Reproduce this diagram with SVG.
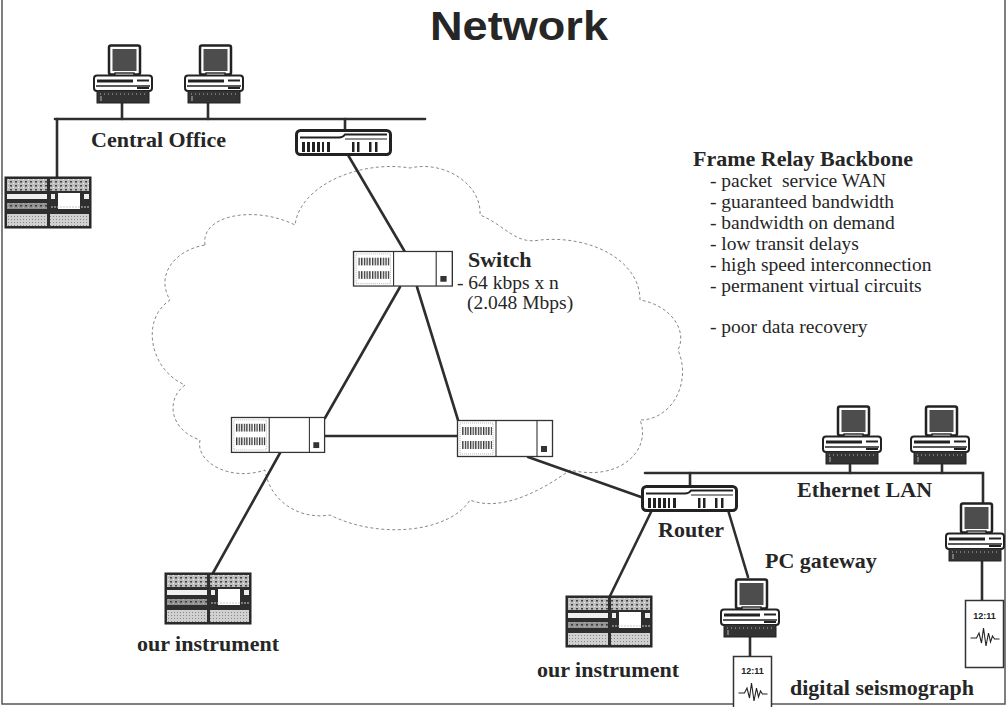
<svg xmlns="http://www.w3.org/2000/svg" xmlns:xlink="http://www.w3.org/1999/xlink" width="1007" height="707" viewBox="0 0 1007 707">
  <style>
    .link { stroke: #2e2e2e; stroke-width: 2.6; fill: none; stroke-linecap: round; }
    .lbl { font-family: "Liberation Serif", "Times New Roman", serif; font-weight: bold; font-size: 22px; fill: #262626; }
    .txt { font-family: "Liberation Serif", "Times New Roman", serif; font-size: 19.5px; fill: #262626; }
    .cloud { fill: none; stroke: #7a7a7a; stroke-width: 0.9; stroke-dasharray: 3 2.5; }
    .frame { fill: none; stroke: #555; stroke-width: 1.5; }
  </style>
  <defs>
    <pattern id="vent" width="2.6" height="8" patternUnits="userSpaceOnUse">
      <rect x="0" y="0" width="1.3" height="8" fill="#333"/>
    </pattern>
    <pattern id="speck" width="5" height="4" patternUnits="userSpaceOnUse">
      <rect width="5" height="4" fill="#bdbdbd"/>
      <rect x="0" y="0" width="2" height="1.5" fill="#444"/>
      <rect x="3" y="2" width="1" height="1" fill="#eee"/>
    </pattern>
    <pattern id="dots" width="3" height="3" patternUnits="userSpaceOnUse">
      <rect width="3" height="3" fill="#d0d0d0"/>
      <rect x="0" y="0" width="1" height="1" fill="#888"/>
    </pattern>

    <!-- desktop computer: monitor on a base unit -->
    <g id="pc-icon">
      <rect x="16" y="1.5" width="31" height="29" rx="2" fill="#fff" stroke="#222" stroke-width="2.5"/>
      <rect x="19.5" y="5" width="24" height="22" fill="#4d4d4d"/>
      <rect x="22" y="29" width="19" height="3" fill="#fff" stroke="#222" stroke-width="1.4"/>
      <rect x="1" y="31.5" width="58" height="15.5" rx="3" fill="#fff" stroke="#222" stroke-width="2"/>
      <rect x="4" y="35.5" width="36" height="3" fill="#222"/>
      <rect x="44" y="35.5" width="12" height="2" fill="#222"/>
      <line x1="3" y1="42" x2="57" y2="42" stroke="#222" stroke-width="1.4"/>
      <rect x="44" y="43" width="12" height="2" fill="#222"/>
      <rect x="4" y="46.5" width="52" height="12.5" fill="#333" stroke="#222" stroke-width="1"/>
      <line x1="7" y1="50" x2="53" y2="50" stroke="#ddd" stroke-width="0.8" stroke-dasharray="1 3"/>
      <line x1="8" y1="52" x2="8" y2="57" stroke="#ddd" stroke-width="0.8"/>
    </g>

    <!-- router: rounded chassis with port bars -->
    <g id="router-icon">
      <rect x="1.5" y="1.5" width="94" height="24" rx="4" fill="#fff" stroke="#222" stroke-width="3"/>
      <path d="M5,8.5 H44 Q48,8.5 50,5.5 H92" fill="none" stroke="#222" stroke-width="2"/>
      <path d="M50,10 H92" fill="none" stroke="#222" stroke-width="1.2"/>
      <g fill="#222">
        <rect x="7" y="13" width="3" height="10"/>
        <rect x="12" y="13" width="3" height="10"/>
        <rect x="17" y="13" width="3" height="10"/>
        <rect x="22" y="13" width="3" height="10"/>
        <rect x="27" y="13" width="2" height="10"/>
        <rect x="32" y="13" width="3" height="10"/>
        <rect x="57" y="13" width="2.5" height="10"/>
        <rect x="62" y="13" width="2.5" height="10"/>
        <rect x="74" y="13" width="2.5" height="10"/>
        <rect x="80" y="13" width="2.5" height="10"/>
      </g>
    </g>

    <!-- frame relay switch: vented panel, blank bay, status panel -->
    <g id="switch-icon">
      <rect x="0.5" y="0.5" width="95" height="36" fill="#fff" stroke="#333" stroke-width="1.3"/>
      <line x1="39" y1="0.5" x2="39" y2="36.5" stroke="#333" stroke-width="1.1"/>
      <line x1="80" y1="0.5" x2="80" y2="36.5" stroke="#333" stroke-width="1.1"/>
      <rect x="3" y="3" width="33" height="31" fill="none" stroke="#888" stroke-width="0.6" stroke-dasharray="1 1"/>
      <rect x="5" y="7" width="30" height="8" fill="url(#vent)"/>
      <rect x="5" y="21" width="30" height="8" fill="url(#vent)"/>
      <rect x="84" y="26" width="6" height="6" fill="#333"/>
    </g>

    <!-- data acquisition instrument front panel -->
    <g id="instrument-icon">
      <rect x="0" y="0" width="86" height="51" fill="#2e2e2e" stroke="#222" stroke-width="1"/>
      <rect x="2" y="2" width="40" height="12" fill="url(#speck)"/>
      <rect x="45" y="2" width="39" height="12" fill="url(#speck)"/>
      <rect x="2" y="17" width="40" height="5" fill="#f0f0f0"/>
      <rect x="46" y="17" width="4" height="5" fill="#eee"/>
      <rect x="53" y="16" width="22" height="16" fill="#fff"/>
      <rect x="79" y="17" width="5" height="5" fill="#eee"/>
      <line x1="46" y1="30" x2="84" y2="30" stroke="#ccc" stroke-width="1.2" stroke-dasharray="2 1"/>
      <rect x="2" y="26" width="40" height="6" fill="url(#speck)" opacity="0.7"/>
      <rect x="2" y="37" width="40" height="12" fill="url(#dots)"/>
      <rect x="45" y="37" width="39" height="12" fill="url(#dots)"/>
    </g>

    <!-- seismograph trace display -->
    <g id="seismo-trace">
      <text x="19" y="15" text-anchor="middle" font-family="Liberation Sans, Arial, sans-serif" font-weight="bold" font-size="9" fill="#222">12:11</text>
      <path d="M5,34 H11 L13.5,29 L16,39 L18,24 L20.5,42 L23,29 L25,38 L27,32 L29,35 H34" fill="none" stroke="#222" stroke-width="1.1"/>
    </g>
  </defs>

  <rect width="1007" height="707" fill="#fff"/>
  <path class="frame" d="M2,0 V704 H1005 V0"/>

  <text x="519" y="40" text-anchor="middle" font-family="Liberation Sans, Arial, sans-serif" font-weight="bold" font-size="40" textLength="178" lengthAdjust="spacingAndGlyphs" fill="#262626">Network</text>

  <!-- frame relay cloud -->
  <path id="cloud" class="cloud" d="M205,245 C200,215 255,205 295,225 C300,185 360,160 410,168 C445,160 482,185 480,215 C505,225 515,245 540,240 C590,235 640,260 640,300 C670,305 688,330 678,350 C692,382 672,420 640,420 C652,450 620,482 570,470 C540,492 500,512 470,500 C450,532 380,540 330,515 C300,520 270,502 265,470 C230,482 195,462 200,440 C170,430 165,400 185,385 C150,370 140,320 170,300 C155,275 175,250 205,245 Z"/>

  <!-- connectors -->
  <g id="connectors">
    <path class="link" d="M55,119 H425"/>
    <path class="link" d="M122,103 V119"/>
    <path class="link" d="M208,103 V119"/>
    <path class="link" d="M57,119 V177"/>
    <path class="link" d="M345,119 V129"/>
    <path class="link" d="M348,155 L405,252"/>
    <path class="link" d="M400,287 L325,418"/>
    <path class="link" d="M417,287 L458,420"/>
    <path class="link" d="M325,436 H457"/>
    <path class="link" d="M280,453 L213,573"/>
    <path class="link" d="M528,457 L641,497"/>
    <path class="link" d="M645,473 H983 V503"/>
    <path class="link" d="M850,465 V473"/>
    <path class="link" d="M942,465 V473"/>
    <path class="link" d="M690,473 V485"/>
    <path class="link" d="M652,510 L610,596"/>
    <path class="link" d="M728,510 L748,577"/>
    <path class="link" d="M750,637 V656"/>
    <path class="link" d="M982,560 V600"/>
  </g>

  <!-- central office -->
  <g id="co-pc1"><use href="#pc-icon" x="93" y="44"/></g>
  <g id="co-pc2"><use href="#pc-icon" x="184" y="44"/></g>
  <g id="co-router"><use href="#router-icon" x="295" y="129"/></g>
  <g id="co-instrument"><use href="#instrument-icon" x="5" y="177"/></g>
  <text class="lbl" x="91" y="147">Central Office</text>

  <!-- backbone switches -->
  <g id="switch-top"><use href="#switch-icon" transform="translate(353,251) scale(1.04,0.96)"/></g>
  <g id="switch-left"><use href="#switch-icon" transform="translate(231,417) scale(0.98,0.97)"/></g>
  <g id="switch-right"><use href="#switch-icon" transform="translate(457,420)"/></g>
  <text class="lbl" x="468" y="267">Switch</text>
  <text class="txt" x="457" y="289">- 64 kbps x n</text>
  <text class="txt" x="467" y="309">(2.048 Mbps)</text>

  <!-- frame relay notes -->
  <g id="notes">
    <text class="lbl" x="693" y="166">Frame Relay Backbone</text>
    <text class="txt" x="710" y="187" xml:space="preserve">- packet  service WAN</text>
    <text class="txt" x="710" y="208">- guaranteed bandwidth</text>
    <text class="txt" x="710" y="229">- bandwidth on demand</text>
    <text class="txt" x="710" y="250">- low transit delays</text>
    <text class="txt" x="710" y="271">- high speed interconnection</text>
    <text class="txt" x="710" y="292">- permanent virtual circuits</text>
    <text class="txt" x="710" y="333">- poor data recovery</text>
  </g>

  <!-- remote site on left -->
  <g id="instrument-left"><use href="#instrument-icon" x="165" y="573"/></g>
  <text class="lbl" x="137" y="651">our instrument</text>

  <!-- local site -->
  <g id="lan-pc1"><use href="#pc-icon" x="822" y="405"/></g>
  <g id="lan-pc2"><use href="#pc-icon" x="910" y="405"/></g>
  <g id="lan-pc3"><use href="#pc-icon" x="945" y="502"/></g>
  <text class="lbl" x="797" y="497">Ethernet LAN</text>

  <g id="router-local"><use href="#router-icon" x="641" y="485"/></g>
  <text class="lbl" x="658" y="537">Router</text>

  <g id="instrument-right"><use href="#instrument-icon" x="566" y="596"/></g>
  <text class="lbl" x="537" y="677">our instrument</text>

  <g id="pc-gateway"><use href="#pc-icon" x="720" y="578"/></g>
  <text class="lbl" x="765" y="568">PC gateway</text>

  <g id="seismo-gateway">
    <rect x="733.5" y="656.5" width="38" height="52" fill="#fff" stroke="#333" stroke-width="1.5"/>
    <use href="#seismo-trace" x="733.5" y="659"/>
  </g>
  <g id="seismo-lan">
    <rect x="965.5" y="600.5" width="38" height="67" fill="#fff" stroke="#333" stroke-width="1.5"/>
    <use href="#seismo-trace" x="965.5" y="604"/>
  </g>
  <text class="lbl" x="790" y="695">digital seismograph</text>
</svg>
